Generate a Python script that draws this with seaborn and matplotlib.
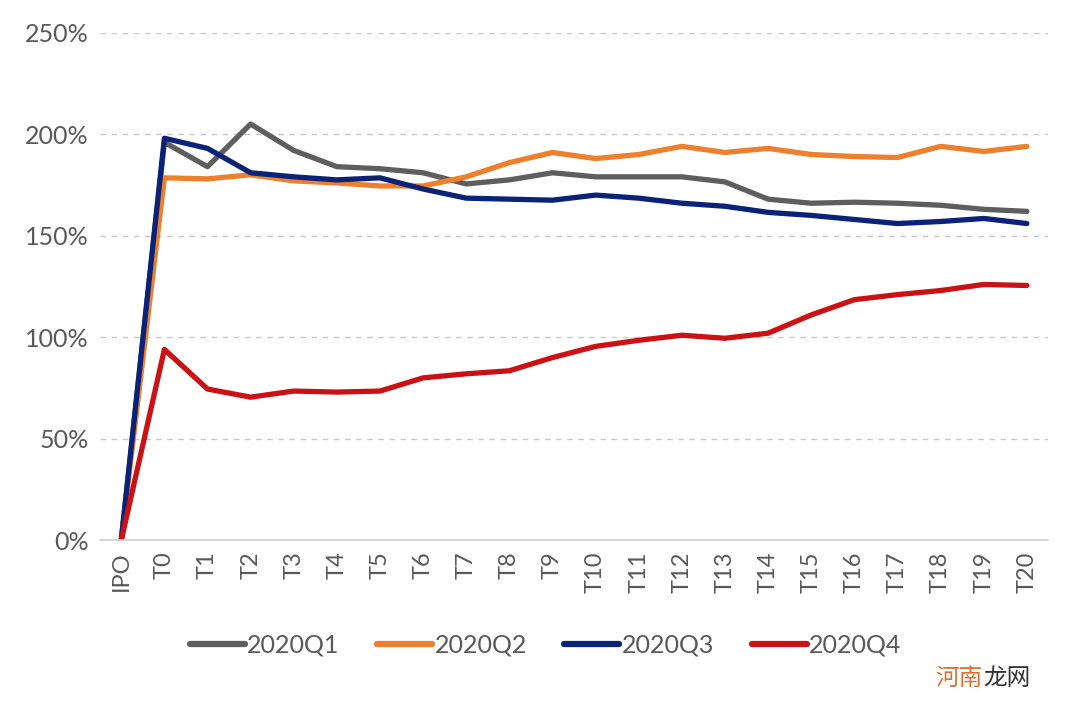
import pandas as pd
import matplotlib.pyplot as plt
import seaborn as sns

# --- Data (in %) ---
periods = ['IPO'] + [f'T{i}' for i in range(21)]
series_names = ['2020Q1', '2020Q2', '2020Q3', '2020Q4']

q1 = [0, 196, 184, 205, 192, 184, 183, 181, 175.5, 177.5, 181, 179, 179, 179,
      176.5, 168, 166, 166.5, 166, 165, 163, 162]
q2 = [0, 178.5, 178, 180, 177, 176, 174.5, 174.5, 179, 186, 191, 188, 190, 194,
      191, 193, 190, 189, 188.5, 194, 191.5, 194]
q3 = [0, 198, 193, 181, 179, 177.5, 178.5, 173, 168.5, 168, 167.5, 170, 168.5,
      166, 164.5, 161.5, 160, 158, 156, 157, 158.5, 156]
q4 = [0, 94, 74.5, 70.5, 73.5, 73, 73.5, 80, 82, 83.5, 90, 95.5, 98.5, 101,
      99.5, 102, 111, 118.5, 121, 123, 126, 125.5]

colors = ['#5e5e5e', '#ee7f2d', '#0a2379', '#cc1114']

# --- Build long-form table ---
rows = []
for name, vals in zip(series_names, [q1, q2, q3, q4]):
    for i, v in enumerate(vals):
        rows.append({'period': i, 'label': periods[i], 'series': name, 'value': v})
df = pd.DataFrame(rows)

sns.set_style("white")
plt.rcParams['font.family'] = ['Lato', 'Noto Sans CJK SC', 'DejaVu Sans']

fig = plt.figure(figsize=(10.72, 7.1), dpi=100)
ax = fig.add_axes([0.093, 0.239, 0.885, 0.715])

sns.lineplot(data=df, x='period', y='value', hue='series',
             palette=colors, linewidth=3.8, ax=ax, legend=True)

ax.set_xlim(-0.5, len(periods) - 0.5)
ax.set_ylim(0, 250)
ax.set_xticks(range(len(periods)))
ax.set_xticklabels(periods, rotation=90, fontsize=17, color='#595959')
ax.set_yticks([0, 50, 100, 150, 200, 250])
ax.set_yticklabels([f'{v}%' for v in [0, 50, 100, 150, 200, 250]],
                   fontsize=18, color='#595959')
ax.tick_params(axis='both', length=0, pad=8)
ax.set_xlabel('')
ax.set_ylabel('')

# dashed grid lines, solid baseline
for y in [50, 100, 150, 200, 250]:
    ax.axhline(y, color='#c8c8c8', linestyle=(0, (4, 4)), linewidth=1, zorder=0)
for s in ['top', 'right', 'left']:
    ax.spines[s].set_visible(False)
ax.spines['bottom'].set_color('#d0d0d0')
ax.spines['bottom'].set_linewidth(1.2)

leg = ax.legend(loc='center', bbox_to_anchor=(0.47, -0.207), ncol=4,
                frameon=False, fontsize=18, handlelength=2.2,
                handletextpad=0.1, columnspacing=1.5)
for line in leg.get_lines():
    line.set_linewidth(4.5)
for t in leg.get_texts():
    t.set_color('#595959')

# watermark
fig.text(0.872, 0.035, '河南', fontsize=17, color='#e07030', ha='left')
fig.text(0.917, 0.035, '龙网', fontsize=17, color='#333333', ha='left')

fig.savefig('out.png', dpi=100)
